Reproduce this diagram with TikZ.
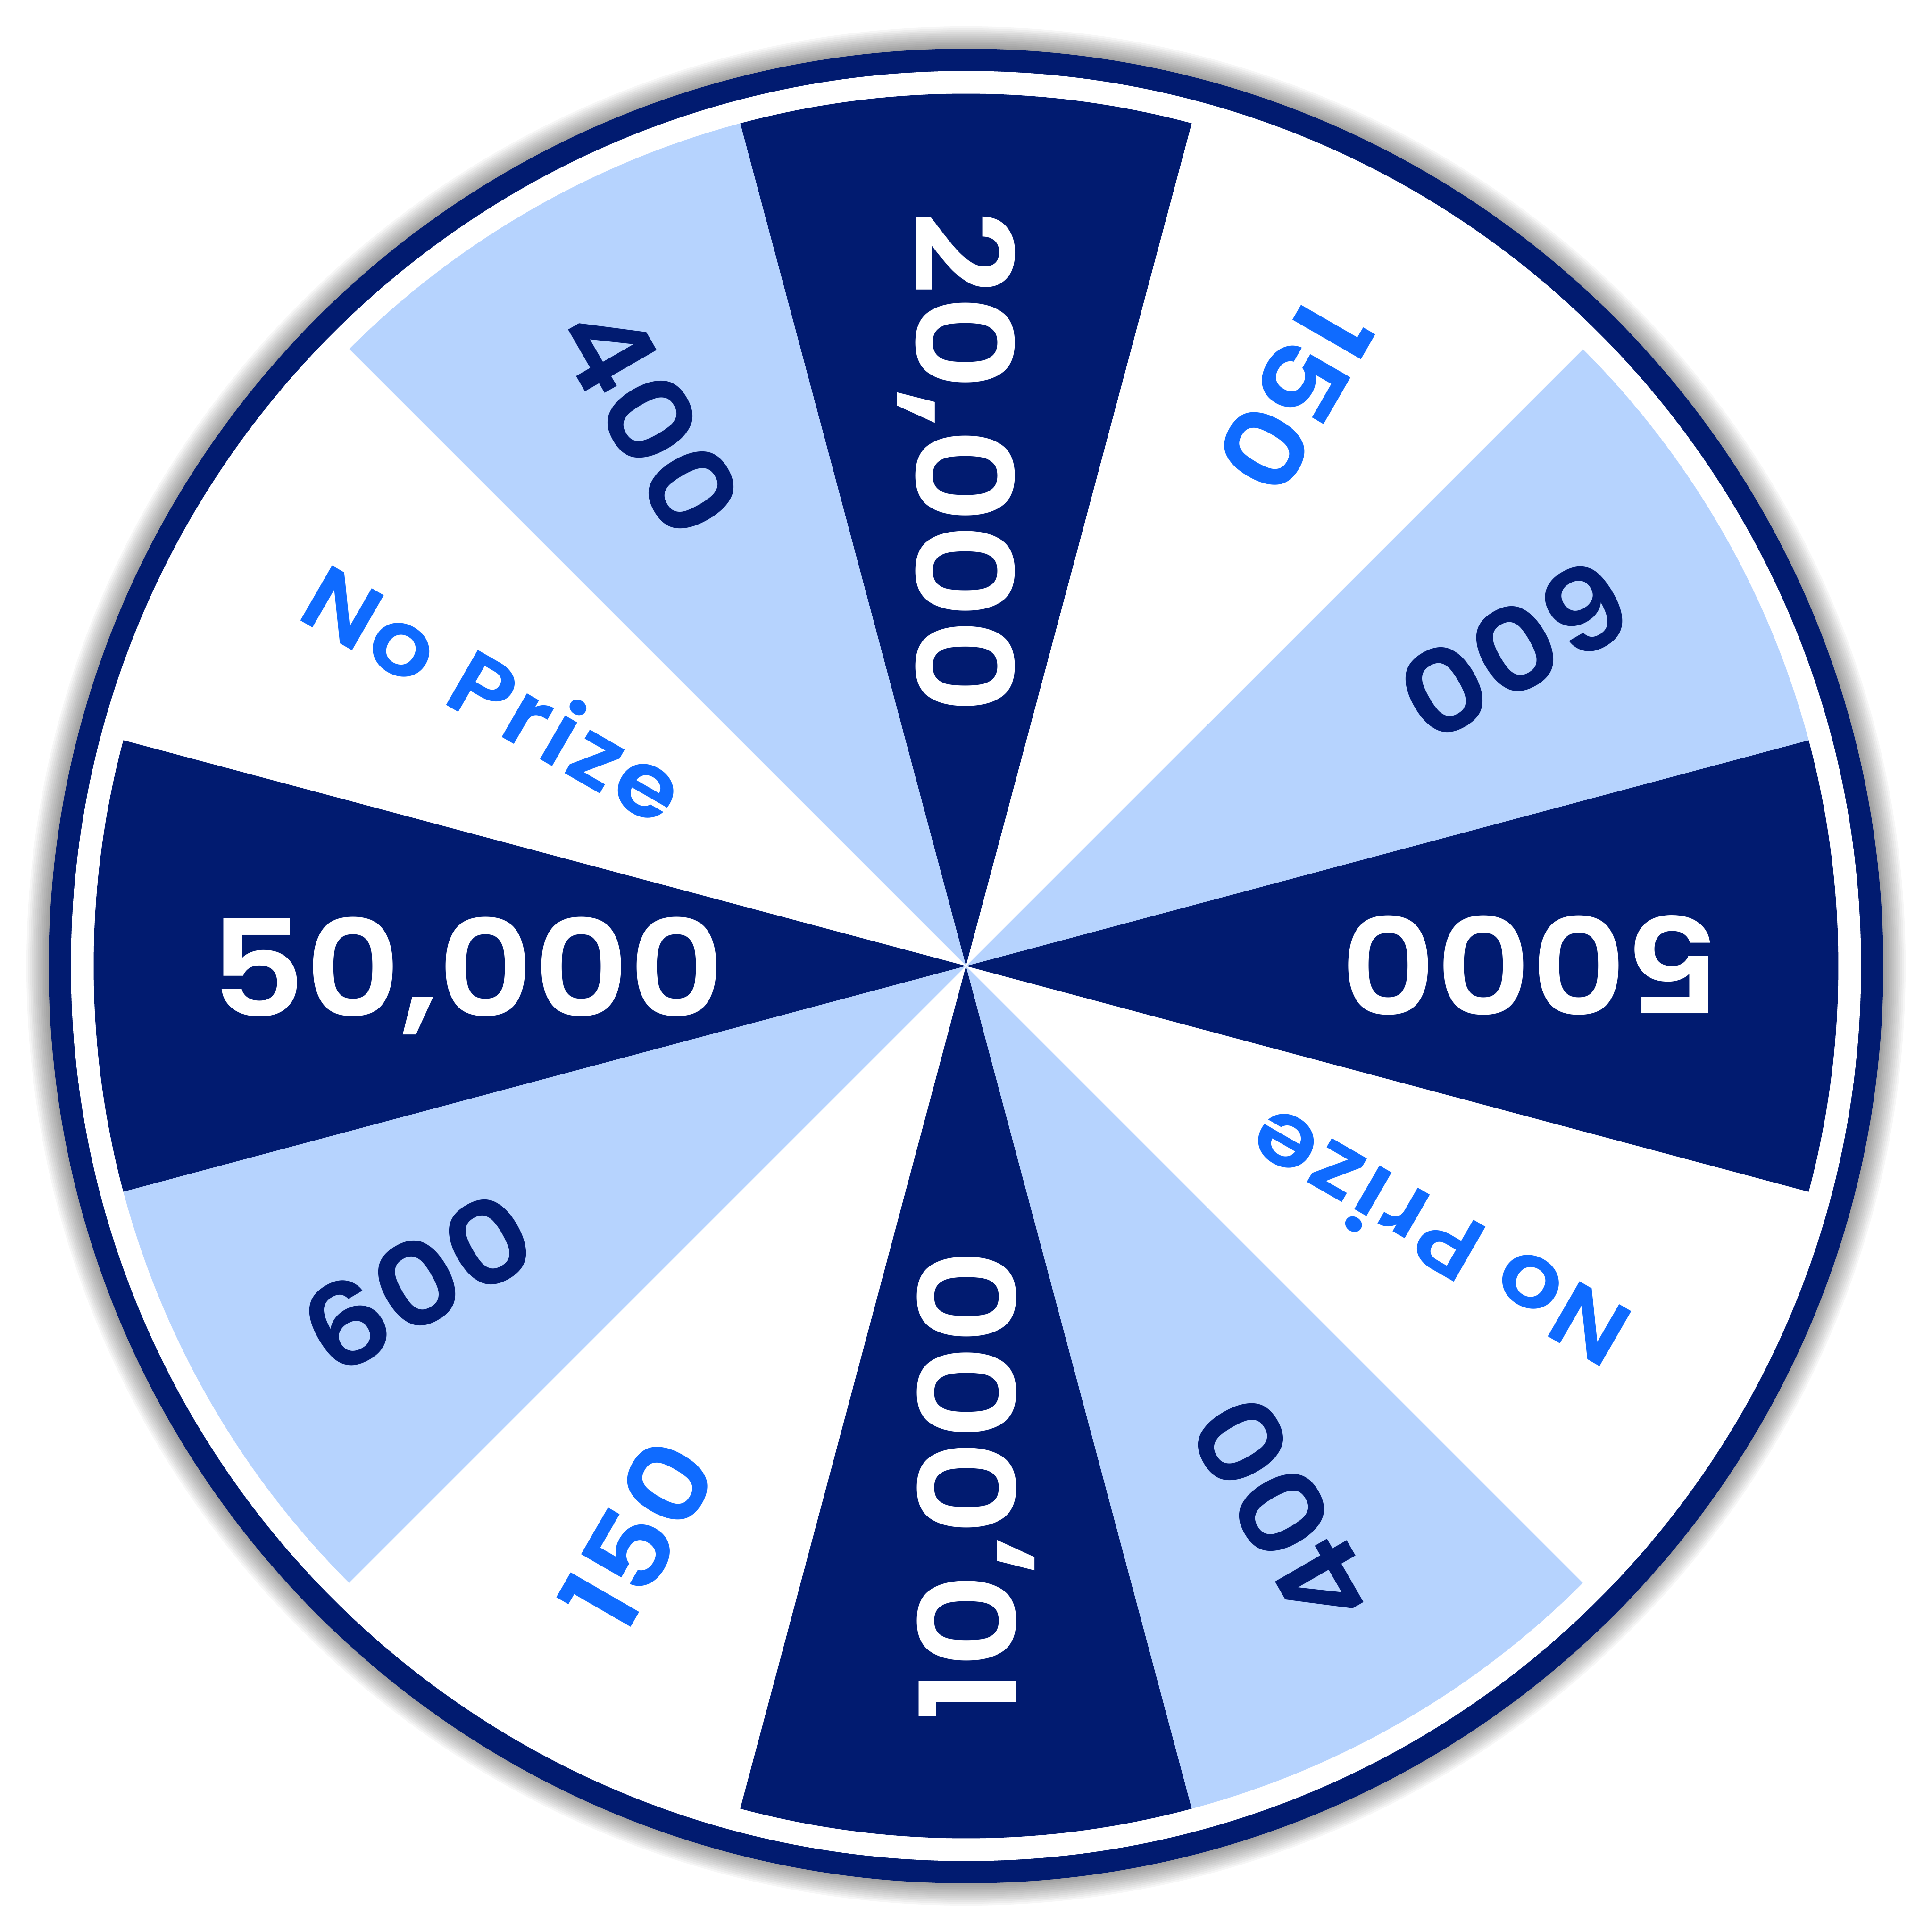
\documentclass[tikz,border=0pt]{standalone}
\usepackage{fontspec}
\newfontfamily\wheelfont{Poppins}[UprightFont={* SemiBold},FakeStretch=1.1]
\newfontfamily\wheelwide{Poppins}[UprightFont={* SemiBold},FakeStretch=1.1,LetterSpace=4]
\definecolor{WheelNavy}{RGB}{1,27,112}
\definecolor{WheelSky}{RGB}{182,211,254}
\definecolor{PrizeBlue}{RGB}{15,107,255}

\begin{document}
\begin{tikzpicture}[
  prize/.style={anchor=west,inner sep=0pt,text depth=0pt},
  bigprize/.style={prize,white,text height=31pt,font={\wheelfont\fontsize{41.2}{46}\selectfont}},
  skyprize/.style={prize,WheelNavy,text height=26.3pt,font={\wheelfont\fontsize{35.3}{40}\selectfont}},
  smallprize/.style={prize,PrizeBlue,text height=24.8pt,font={\wheelfont\fontsize{33.3}{38}\selectfont}},
  noprize/.style={prize,PrizeBlue,text height=20.8pt,font={\wheelwide\fontsize{27.9}{32}\selectfont}}]
\fill[white] (-10.42,-10.42) rectangle (10.42,10.42);
\useasboundingbox (-10.42,-10.42) rectangle (10.42,10.42);
% soft shadow round the rim
\foreach \i in {1,...,12}
  \fill[black,opacity=.035] (0,0) circle ({9.895+.02*\i});
\fill[WheelNavy] (0,0) circle (9.895);
\fill[white] (0,0) circle (9.655);
% twelve wedges of 30 degrees
\foreach \a/\c in {75/WheelNavy,105/WheelSky,135/white,165/WheelNavy,195/WheelSky,225/white,
                   255/WheelNavy,285/WheelSky,315/white,345/WheelNavy,15/WheelSky,45/white}
  \fill[\c] (0,0) -- (\a:9.41) arc[start angle=\a,end angle=\a+30,radius=9.41] -- cycle;
% prize labels, read from the rim inwards
\foreach \m/\s/\t in {90/bigprize/{20,000},60/smallprize/150,30/skyprize/600,0/bigprize/5000,
                      330/noprize/No Prize,300/skyprize/400,270/bigprize/{10,000},240/smallprize/150,
                      210/skyprize/600,180/bigprize/{50,000},150/noprize/No Prize,120/skyprize/400}
  \node[\s,rotate=\m+180] (prize\m) at (\m:8.16) {\t};
\end{tikzpicture}
\end{document}
